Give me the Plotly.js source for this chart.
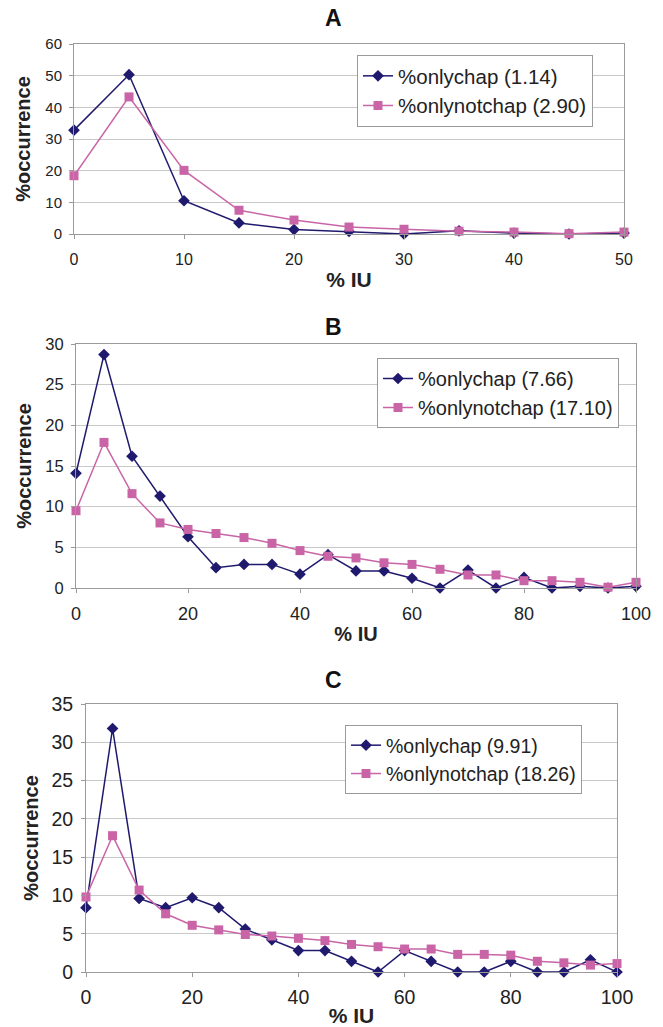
<!DOCTYPE html>
<html>
<head>
<meta charset="utf-8">
<script src="https://cdn.plot.ly/plotly-3.0.1.min.js"></script>
<style>html,body{margin:0;padding:0;background:#fff;}#chart{width:663px;height:1027px;}</style>
</head>
<body>
<div id="chart"></div>
<script>
// ---- Data ----
const xA = [0, 5, 10, 15, 20, 25, 30, 35, 40, 45, 50];
const chapA = [32.8, 50.3, 10.5, 3.5, 1.4, 0.8, 0.0, 1.0, 0.3, 0.0, 0.3];
const notchapA = [18.4, 43.3, 20.1, 7.5, 4.4, 2.2, 1.5, 0.9, 0.6, 0.1, 0.6];

const xB = [0, 5, 10, 15, 20, 25, 30, 35, 40, 45, 50, 55, 60, 65, 70, 75, 80, 85, 90, 95, 100];
const chapB = [14.1, 28.7, 16.2, 11.3, 6.3, 2.5, 2.9, 2.9, 1.7, 4.1, 2.1, 2.1, 1.2, 0.0, 2.2, 0.0, 1.3, 0.0, 0.2, 0.0, 0.2];
const notchapB = [9.5, 17.9, 11.6, 8.0, 7.2, 6.7, 6.2, 5.5, 4.6, 3.9, 3.7, 3.1, 2.9, 2.3, 1.6, 1.6, 0.9, 0.9, 0.7, 0.1, 0.7];

const xC = [0, 5, 10, 15, 20, 25, 30, 35, 40, 45, 50, 55, 60, 65, 70, 75, 80, 85, 90, 95, 100];
const chapC = [8.4, 31.8, 9.6, 8.4, 9.7, 8.4, 5.6, 4.2, 2.8, 2.8, 1.4, 0.0, 2.8, 1.4, 0.0, 0.0, 1.4, 0.0, 0.0, 1.6, 0.0];
const notchapC = [9.8, 17.8, 10.7, 7.6, 6.1, 5.5, 4.9, 4.7, 4.4, 4.1, 3.6, 3.3, 3.0, 3.0, 2.3, 2.3, 2.2, 1.4, 1.2, 0.9, 1.1];

const namesA = ['%onlychap (1.14)', '%onlynotchap (2.90)'];
const namesB = ['%onlychap (7.66)', '%onlynotchap (17.10)'];
const namesC = ['%onlychap (9.91)', '%onlynotchap (18.26)'];
const panelTitles = ['A', 'B', 'C'];
const xTitle = '% IU';
const yTitle = '%occurrence';

// ---- Styles ----
const BLUE = '#1f1a6e';
const PINK = '#c965a6';
const FONT = 'Liberation Sans, Arial, sans-serif';
const W = 663, H = 1027;

function trace(x, y, name, xa, ya, leg, isChap) {
  return {
    x: x, y: y, name: name, xaxis: xa, yaxis: ya, legend: leg,
    type: 'scatter', mode: 'lines+markers', cliponaxis: false,
    line: {color: isChap ? BLUE : PINK, width: 1.5},
    marker: {symbol: isChap ? 'diamond' : 'square', size: 9, color: isChap ? BLUE : PINK}
  };
}

const data = [
  trace(xA, chapA, namesA[0], 'x', 'y', 'legend', true),
  trace(xA, notchapA, namesA[1], 'x', 'y', 'legend', false),
  trace(xB, chapB, namesB[0], 'x2', 'y2', 'legend2', true),
  trace(xB, notchapB, namesB[1], 'x2', 'y2', 'legend2', false),
  trace(xC, chapC, namesC[0], 'x3', 'y3', 'legend3', true),
  trace(xC, notchapC, namesC[1], 'x3', 'y3', 'legend3', false)
];

function px2x(p) { return p / W; }
function px2y(p) { return 1 - p / H; }

function xaxis(l, r, max, dtick, fs, tfs, standoff, lblOff, anchor) {
  return {
    domain: [px2x(l), px2x(r)], range: [0, max], anchor: anchor,
    tickmode: 'linear', tick0: 0, dtick: dtick,
    showgrid: false, zeroline: false,
    showline: true, mirror: true, linecolor: '#9a9a9a', linewidth: 1,
    ticks: 'outside', ticklen: 4, tickcolor: '#9a9a9a', ticklabelstandoff: lblOff,
    tickfont: {family: FONT, size: fs, color: '#222'},
    title: {text: '<b>' + xTitle + '</b>', font: {family: FONT, size: tfs, color: '#222'}, standoff: standoff},
    automargin: false, fixedrange: true
  };
}
function yaxis(t, b, max, dtick, fs, tfs, standoff, lblOff, anchor) {
  return {
    domain: [px2y(b), px2y(t)], range: [0, max], anchor: anchor,
    tickmode: 'linear', tick0: 0, dtick: dtick,
    showgrid: true, gridcolor: '#c8c8c8', gridwidth: 1, zeroline: false,
    showline: true, mirror: true, linecolor: '#9a9a9a', linewidth: 1,
    ticks: 'outside', ticklen: 4, tickcolor: '#9a9a9a', ticklabelstandoff: lblOff,
    tickfont: {family: FONT, size: fs, color: '#222'},
    title: {text: '<b>' + yTitle + '</b>', font: {family: FONT, size: tfs, color: '#222'}, standoff: standoff},
    automargin: false, fixedrange: true
  };
}
function legend(l, t, fs) {
  return {
    x: px2x(l), y: px2y(t), xanchor: 'left', yanchor: 'top',
    bgcolor: '#ffffff', bordercolor: '#9a9a9a', borderwidth: 1,
    font: {family: FONT, size: fs, color: '#222'},
    itemwidth: 30, tracegroupgap: 0
  };
}
function panelTitle(txt, ypx) {
  return {text: '<b>' + txt + '</b>', x: px2x(333), y: px2y(ypx), xref: 'paper', yref: 'paper',
    xanchor: 'center', yanchor: 'middle', showarrow: false, font: {family: FONT, size: 23, color: '#111'}};
}

const layout = {
  width: W, height: H,
  margin: {l: 0, r: 0, t: 0, b: 0},
  paper_bgcolor: '#fff', plot_bgcolor: '#fff',
  showlegend: true,
  xaxis: xaxis(74, 624, 50, 10, 16, 21, 5, 7, 'y'),
  yaxis: yaxis(44, 234, 60, 10, 15, 20, 9, 4, 'x'),
  xaxis2: xaxis(76, 636, 100, 20, 18, 20, 4, 5, 'y2'),
  yaxis2: yaxis(344, 588, 30, 5, 16.5, 20, 8, 4, 'x2'),
  xaxis3: xaxis(86, 617, 100, 20, 19.5, 21, 3, 4, 'y3'),
  yaxis3: yaxis(704, 972, 35, 5, 19.5, 20, 7, 4, 'x3'),
  legend: legend(357, 55, 20.5),
  legend2: legend(377, 358, 20),
  legend3: legend(345, 725, 19.5),
  annotations: [
    panelTitle(panelTitles[0], 18),
    panelTitle(panelTitles[1], 327),
    panelTitle(panelTitles[2], 680)
  ]
};

Plotly.newPlot('chart', data, layout, {staticPlot: true, displayModeBar: false});
</script>
</body>
</html>
